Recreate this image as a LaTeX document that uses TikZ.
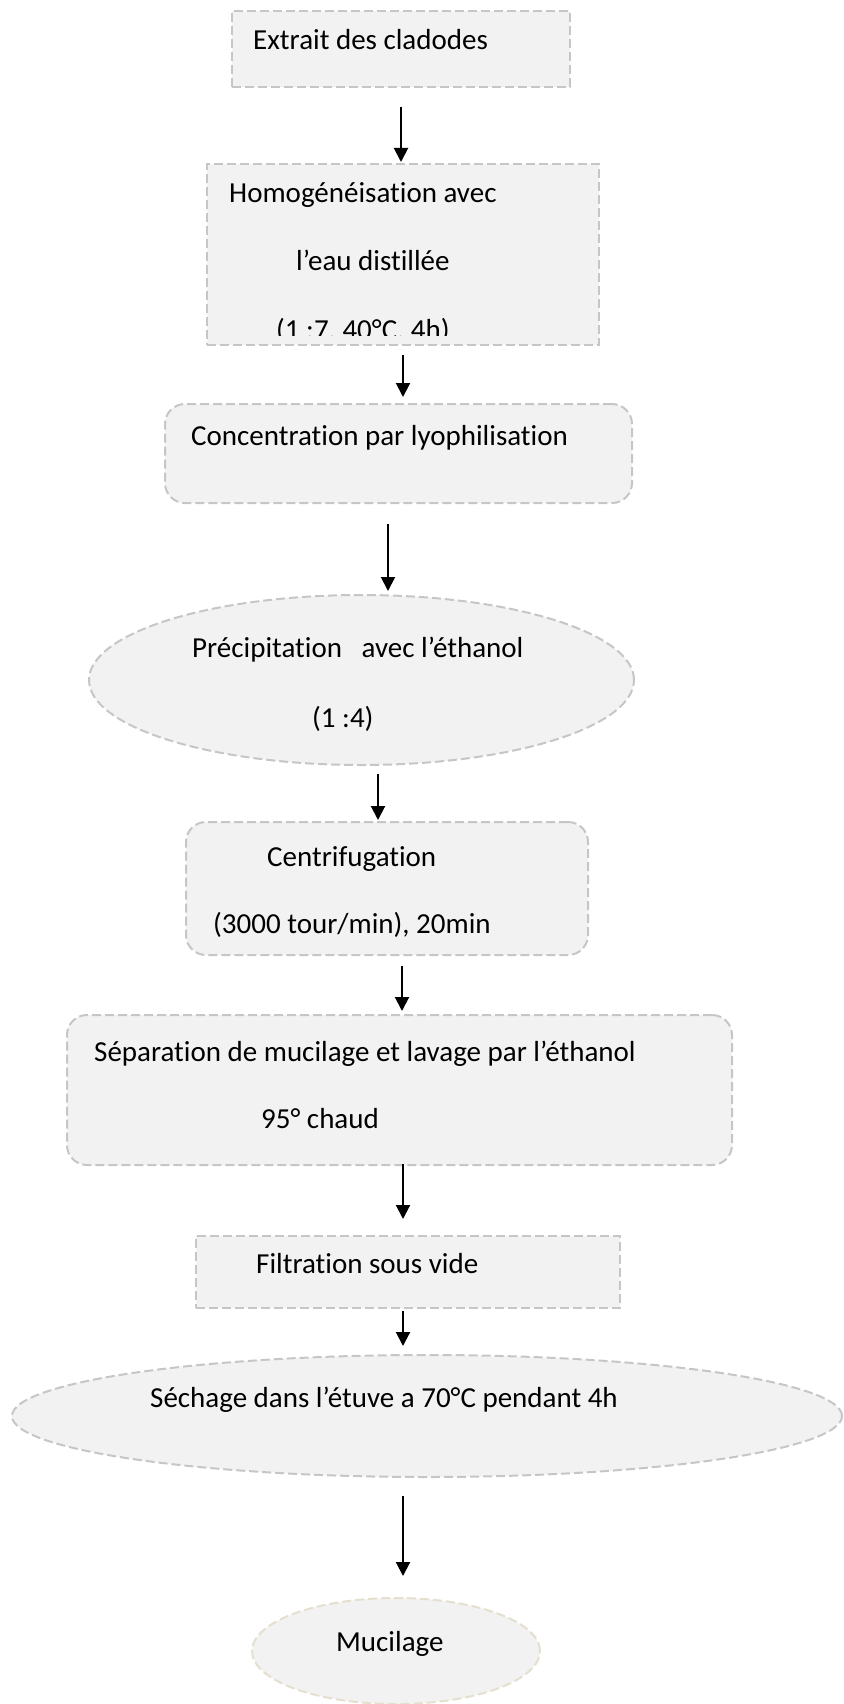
\documentclass[tikz,border=0pt]{standalone}
\usepackage{fontspec}
\setmainfont{Carlito}[Ligatures={NoCommon,NoContextual}]
\usetikzlibrary{arrows.meta,shapes.geometric}
\definecolor{boxfill}{HTML}{F2F2F2}
\definecolor{boxline}{HTML}{C6C6C6}
\definecolor{mucline}{HTML}{E4DFCF}
\tikzset{stage box/.style={rectangle,fill=boxfill,draw=boxline,line width=2pt,dash pattern=on 9pt off 4pt,inner sep=0pt},
         stage round/.style={stage box,rounded corners=20pt},
         stage oval/.style={stage box,ellipse},
         stage text/.style={anchor=base west,inner sep=0pt,font=\fontsize{29}{35}\selectfont},
         flow/.style={->,line width=2pt}
}
\begin{document}
\begin{tikzpicture}[x=1pt,y=-1pt,
>={Triangle[length=14pt,width=14pt]}]
\useasboundingbox (0,0) rectangle (843,1704);

\node[stage box,minimum width=338pt,minimum height=76pt] (extrait) at (401,49) {};
\node[stage text] (t-extrait) at (253,50) {Extrait des cladodes};

\node[stage box,minimum width=392pt,minimum height=181pt] (homog) at (403,254.5) {};
\node[stage text] (t-homog1) at (229,203) {Homogénéisation avec};
\node[stage text] (t-homog2) at (296,270) {l’eau distillée};
\begin{scope}
\clip (207,164) rectangle (599,335);
\node[stage text] (t-homog3) at (276,339) {(1 :7, 40°C, 4h)};
\end{scope}

\node[stage round,minimum width=467pt,minimum height=99pt] (conc) at (398.5,453.5) {};
\node[stage text] (t-conc) at (191,445) {Concentration par lyophilisation};

\node[stage oval,minimum width=545pt,minimum height=170pt] (precip) at (361.5,680) {};
\node[stage text] (t-precip1) at (192,657) {Précipitation\ \ \ avec l’éthanol};
\node[stage text] (t-precip2) at (312,727) {(1 :4)};

\node[stage round,minimum width=402pt,minimum height=133pt] (centri) at (387,888.5) {};
\node[stage text] (t-centri1) at (267,866) {Centrifugation};
\node[stage text] (t-centri2) at (213,933) {(3000 tour/min), 20min};

\node[stage round,minimum width=665pt,minimum height=150pt] (separ) at (399.5,1090) {};
\node[stage text] (t-separ1) at (94,1061) {Séparation de mucilage et lavage par l’éthanol};
\node[stage text] (t-separ2) at (261,1128) {95° chaud};

\node[stage box,minimum width=424pt,minimum height=72pt] (filtr) at (408,1272) {};
\node[stage text] (t-filtr) at (256,1273) {Filtration sous vide};

\node[stage oval,minimum width=830pt,minimum height=122pt] (sechage) at (427,1416) {};
\node[stage text] (t-sechage) at (150,1407) {Séchage dans l’étuve a 70°C pendant 4h};

\node[stage oval,draw=mucline,minimum width=288pt,minimum height=106pt] (mucil) at (396,1651) {};
\node[stage text] (t-mucil) at (336,1651) {Mucilage};

\draw[flow] ([shift={(0,19)}]extrait.south) -- ([shift={(-2,-1)}]homog.north);
\draw[flow] ([shift={(0,9)}]homog.south) -- ([shift={(4.5,-6)}]conc.north);
\draw[flow] ([shift={(-10.5,20)}]conc.south) -- ([shift={(26.5,-3)}]precip.north);
\draw[flow] ([shift={(16.5,8)}]precip.south) -- ([shift={(-9,-1)}]centri.north);
\draw[flow] ([shift={(15,10)}]centri.south) -- ([shift={(2.5,-3)}]separ.north);
\draw[flow] ([shift={(3.5,-2)}]separ.south) -- ([shift={(-5,-16)}]filtr.north);
\draw[flow] ([shift={(-5,2)}]filtr.south) -- ([shift={(-24,-8)}]sechage.north);
\draw[flow] ([shift={(-24,18)}]sechage.south) -- ([shift={(7,-21)}]mucil.north);
\end{tikzpicture}
\end{document}
